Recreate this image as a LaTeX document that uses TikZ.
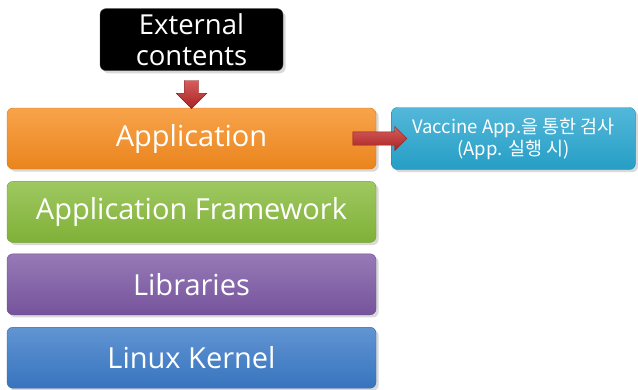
\documentclass[tikz,border=0pt]{standalone}
\usepackage{fontspec}
\setmainfont{Open Sans}
\newfontfamily\korfont{Noto Sans CJK KR}
\usetikzlibrary{positioning,shapes.arrows,shadows}
\definecolor{apporange}{RGB}{246,140,30}
\definecolor{fwgreen}{RGB}{134,186,58}
\definecolor{libpurple}{RGB}{124,88,164}
\definecolor{kernblue}{RGB}{58,122,200}
\definecolor{vaccyan}{RGB}{40,166,208}
\definecolor{pilred}{RGB}{200,40,40}
\tikzset{
    %Define style for layer boxes
    layer/.style={
           rectangle,
           rounded corners=6pt,
           draw=#1!85!black, thin,
           minimum width=369pt,
           minimum height=61pt,
           font=\fontsize{29}{33}\selectfont,
           text=white,
           top color=#1!80!white, bottom color=#1!95!black,
           drop shadow={opacity=0.3}},
    extbox/.style={
           rectangle,
           rounded corners=6pt,
           draw=black!70, thin,
           minimum width=183pt,
           minimum height=62pt,
           align=center,
           font=\fontsize{27.5}{31}\selectfont,
           text=white,
           fill=black,
           drop shadow={opacity=0.3}},
    vacbox/.style={
           rectangle,
           rounded corners=6pt,
           draw=vaccyan!85!black, thin,
           minimum width=244pt,
           minimum height=62pt,
           align=center,
           font=\korfont\fontsize{18.5}{22}\selectfont,
           text=white,
           top color=vaccyan!80!white, bottom color=vaccyan!95!black,
           drop shadow={opacity=0.3}},
    % Define block arrow style
    pil/.style={
           single arrow,
           draw=pilred!70!black, thin,
           top color=pilred!75!white, bottom color=pilred!85!black,
           single arrow head indent=0pt}
}
\begin{document}
\begin{tikzpicture}[x=1pt,y=-1pt]
\useasboundingbox (0,0) rectangle (638,389);
\node[layer=apporange] (app) at (191.5,138.5) {Application};
\node[layer=fwgreen, below=12pt of app] (fw) {Application Framework};
\node[layer=libpurple, below=11pt of fw] (lib) {Libraries};
\node[layer=kernblue, below=12pt of lib] (kern) {Linux Kernel};
\node[extbox, above=37pt of app] (ext) {External\\contents};
\node[vacbox, right=15pt of app] (vac) {Vaccine App.을 통한 검사\\(App. 실행 시)};
% arrows
\node[pil, shape border rotate=270, minimum height=28pt, inner sep=7pt,
      single arrow head extend=8pt, anchor=tip] (down) at ([yshift=-1pt]app.north) {};
\node[pil, minimum height=54pt, inner sep=6.5pt,
      single arrow head extend=5.5pt, anchor=tip] (right) at ([xshift=16pt]vac.west) {};
\end{tikzpicture}
\end{document}
